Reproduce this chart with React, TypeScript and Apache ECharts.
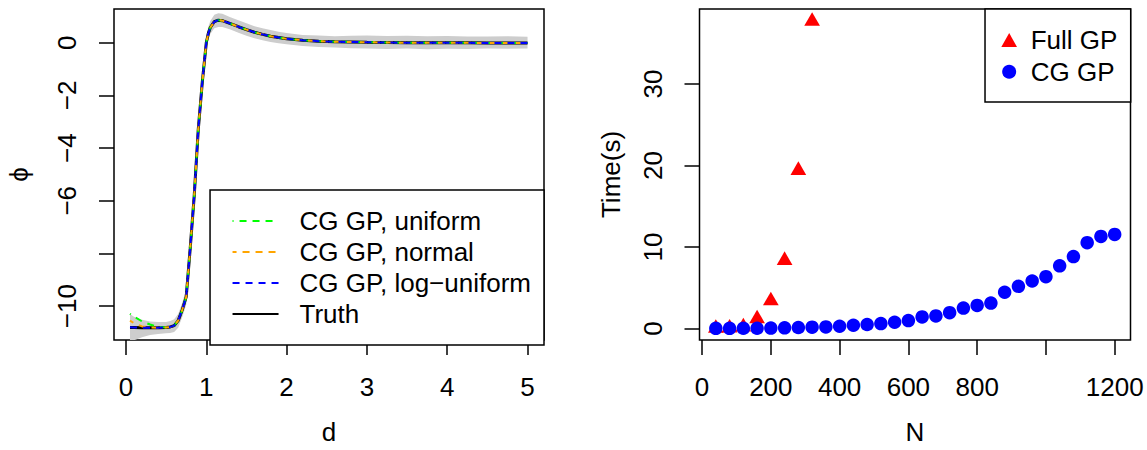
import React, { useEffect, useRef } from "react";
import * as echarts from "echarts";

// ---- Left panel data: phi(d) ----
const D = [0.05, 0.1, 0.2, 0.3, 0.4, 0.5, 0.55, 0.6, 0.65, 0.7, 0.75, 0.8, 0.85, 0.9, 0.95, 0.975, 1.0, 1.025, 1.05, 1.1, 1.15, 1.2, 1.3, 1.4, 1.5, 1.6, 1.7, 1.8, 1.9, 2.0, 2.2, 2.4, 2.6, 2.8, 3.0, 3.25, 3.5, 3.75, 4.0, 4.25, 4.5, 4.75, 5.0];
const TRUTH = [-10.81, -10.81, -10.82, -10.82, -10.82, -10.81, -10.79, -10.74, -10.55, -10.15, -9.65, -7.8, -5.8, -3.3, -1.5, -0.75, 0.0, 0.35, 0.58, 0.8, 0.86, 0.84, 0.73, 0.61, 0.5, 0.4, 0.32, 0.25, 0.2, 0.15, 0.1, 0.06, 0.04, 0.03, 0.02, 0.01, 0.0, 0.0, 0.0, 0.0, -0.01, -0.01, -0.01];
const UNIFORM = [-10.29, -10.4, -10.58, -10.7, -10.79, -10.81, -10.79, -10.74, -10.55, -10.15, -9.65, -7.8, -5.8, -3.3, -1.5, -0.75, 0.0, 0.35, 0.58, 0.8, 0.86, 0.84, 0.73, 0.61, 0.5, 0.4, 0.32, 0.25, 0.2, 0.15, 0.1, 0.06, 0.04, 0.03, 0.02, 0.01, 0.0, 0.0, 0.0, 0.0, -0.01, -0.01, -0.01];
const NORMAL = [-10.55, -10.65, -10.77, -10.81, -10.82, -10.81, -10.79, -10.74, -10.55, -10.15, -9.65, -7.8, -5.8, -3.3, -1.5, -0.75, 0.0, 0.35, 0.58, 0.8, 0.86, 0.84, 0.73, 0.61, 0.5, 0.4, 0.32, 0.25, 0.2, 0.15, 0.1, 0.06, 0.04, 0.03, 0.02, 0.01, 0.0, 0.0, 0.0, 0.0, -0.01, -0.01, -0.01];
const LOG_UNIFORM = [-10.8, -10.81, -10.82, -10.82, -10.82, -10.81, -10.79, -10.74, -10.55, -10.15, -9.65, -7.8, -5.8, -3.3, -1.5, -0.75, 0.0, 0.35, 0.58, 0.8, 0.86, 0.84, 0.73, 0.61, 0.5, 0.4, 0.32, 0.25, 0.2, 0.15, 0.1, 0.06, 0.04, 0.03, 0.02, 0.01, 0.0, 0.0, 0.0, 0.0, -0.01, -0.01, -0.01];
const BAND_UPPER = [-10.3, -10.4, -10.52, -10.58, -10.6, -10.6, -10.57, -10.5, -10.3, -9.88, -9.35, -7.5, -5.5, -3.0, -1.22, -0.5, 0.25, 0.6, 0.83, 1.06, 1.12, 1.1, 0.97, 0.86, 0.74, 0.63, 0.55, 0.49, 0.42, 0.37, 0.3, 0.28, 0.25, 0.27, 0.28, 0.26, 0.27, 0.25, 0.26, 0.24, 0.24, 0.25, 0.23];
const BAND_LOWER = [-11.4, -11.3, -11.18, -11.1, -11.06, -11.03, -11.02, -10.98, -10.82, -10.42, -9.95, -8.1, -6.1, -3.6, -1.78, -1.0, -0.25, 0.1, 0.33, 0.55, 0.6, 0.6, 0.5, 0.38, 0.27, 0.17, 0.1, 0.03, -0.02, -0.06, -0.12, -0.16, -0.18, -0.21, -0.22, -0.24, -0.22, -0.25, -0.23, -0.24, -0.22, -0.23, -0.22];
const D_TICKS = [0, 1, 2, 3, 4, 5];
const PHI_TICKS = [-10, -8, -6, -4, -2, 0];
const PHI_LABELS = [-10, -6, -4, -2, 0];

// ---- Right panel data: time vs N ----
const N_FULL = [40, 80, 120, 160, 200, 240, 280, 320];
const FULL_GP = [0.02, 0.06, 0.2, 1.2, 3.4, 8.35, 19.4, 37.7];
const N_CG = [40, 80, 120, 160, 200, 240, 280, 320, 360, 400, 440, 480, 520, 560, 600, 640, 680, 720, 760, 800, 840, 880, 920, 960, 1000, 1040, 1080, 1120, 1160, 1200];
const CG_GP = [0.02, 0.02, 0.03, 0.03, 0.05, 0.08, 0.12, 0.16, 0.2, 0.28, 0.4, 0.49, 0.61, 0.77, 0.97, 1.42, 1.54, 1.94, 2.51, 2.83, 3.12, 4.45, 5.18, 5.83, 6.36, 7.69, 8.83, 10.53, 11.3, 11.54];
const N_TICKS = [0, 200, 400, 600, 800, 1000, 1200];
const N_LABELS = [0, 200, 400, 600, 800, 1200];
const T_TICKS = [0, 10, 20, 30];

const FONT = "Liberation Sans";
const FS = 26;
const minus = (v: any) => String(v).replace("-", "\u2212");

function pairs(xs: number[], ys: number[]) {
  return xs.map((x, i) => [x, ys[i]]);
}

function axisCommon(ticks: number[], labels: number[], extra: any = {}) {
  return {
    type: "value",
    axisLine: { show: false, onZero: false },
    splitLine: { show: false },
    axisTick: {
      show: true,
      inside: false,
      length: 15,
      customValues: ticks,
      lineStyle: { color: "#000", width: 1.5 },
    },
    axisLabel: {
      customValues: labels,
      color: "#000",
      fontSize: FS,
      fontFamily: FONT,
      margin: 34,
      formatter: minus,
      ...(extra.axisLabel || {}),
    },
    nameLocation: "middle",
    nameTextStyle: { color: "#000", fontSize: FS, fontFamily: FONT },
  };
}

export default function App() {
  const ref = useRef<HTMLDivElement>(null);
  useEffect(() => {
    if (!ref.current) return;
    const chart = echarts.init(ref.current, undefined, { renderer: "svg" });
    const option: any = {
      animation: false,
      backgroundColor: "#fff",
      textStyle: { fontFamily: FONT, color: "#000" },
      grid: [
        { left: 114, top: 9, width: 430, height: 336, show: true, borderColor: "#000", borderWidth: 1.5, backgroundColor: "transparent" },
        { left: 699.5, top: 9, width: 431, height: 336, show: true, borderColor: "#000", borderWidth: 1.5, backgroundColor: "transparent" },
      ],
      xAxis: [
        { ...axisCommon(D_TICKS, D_TICKS), gridIndex: 0, min: -0.149, max: 5.205, name: "d", nameGap: 79 },
        { ...axisCommon(N_TICKS, N_LABELS), gridIndex: 1, min: -7.5, max: 1246, name: "N", nameGap: 79 },
      ],
      yAxis: [
        { ...axisCommon(PHI_TICKS, PHI_LABELS, { axisLabel: { rotate: 90 } }), gridIndex: 0, min: -11.287, max: 1.283, name: "\u03d5", nameGap: 82, nameRotate: 90 },
        { ...axisCommon(T_TICKS, T_TICKS, { axisLabel: { rotate: 90 } }), gridIndex: 1, min: -1.41, max: 39.2, name: "Time(s)", nameGap: 76, nameRotate: 90 },
      ],
      legend: [
        {
          orient: "vertical",
          right: 603,
          bottom: 105,
          data: [
            { name: "CG GP, uniform", itemStyle: { opacity: 0 } },
            { name: "CG GP, normal", itemStyle: { opacity: 0 } },
            { name: "CG GP, log\u2212uniform", itemStyle: { opacity: 0 } },
            { name: "Truth", itemStyle: { opacity: 0 } },
          ],
          padding: [18, 13, 18, 21.5],
          itemWidth: 46,
          itemHeight: 14,
          itemGap: 5,
          borderColor: "#000",
          borderWidth: 1.5,
          borderRadius: 0,
          backgroundColor: "#fff",
          textStyle: { fontSize: FS, fontFamily: FONT, color: "#000", lineHeight: 26, padding: [0, 0, 0, 16] },
          selectedMode: false,
        },
        {
          orient: "vertical",
          right: 16.3,
          top: 9,
          data: ["Full GP", "CG GP"],
          padding: [18, 13.3, 17.3, 16.3],
          itemWidth: 15.7,
          itemHeight: 14,
          itemGap: 5.7,
          symbolKeepAspect: false,
          borderColor: "#000",
          borderWidth: 1.5,
          borderRadius: 0,
          backgroundColor: "#fff",
          textStyle: { fontSize: FS, fontFamily: FONT, color: "#000", lineHeight: 26, padding: [0, 0, 0, 8.7] },
          selectedMode: false,
        },
      ],
      series: [
        {
          type: "custom",
          name: "band",
          xAxisIndex: 0,
          yAxisIndex: 0,
          clip: true,
          silent: true,
          z: 1,
          data: [[D[0], BAND_LOWER[0]]],
          renderItem: (params: any, api: any) => {
            const upper = D.map((x, i) => api.coord([x, BAND_UPPER[i]]));
            const lower = D.map((x, i) => api.coord([x, BAND_LOWER[i]])).reverse();
            const cs = params.coordSys;
            return {
              type: "polygon",
              shape: { points: upper.concat(lower) },
              style: { fill: "#cdcdcd", stroke: "none" },
              clipPath: { type: "rect", shape: { x: cs.x, y: cs.y, width: cs.width, height: cs.height } },
            };
          },
        },
        {
          type: "line",
          name: "Truth",
          xAxisIndex: 0,
          yAxisIndex: 0,
          data: pairs(D, TRUTH),
          symbol: "none",
          z: 2,
          lineStyle: { color: "#000", width: 3 },
          itemStyle: { color: "#000" },
        },
        {
          type: "line",
          name: "CG GP, uniform",
          xAxisIndex: 0,
          yAxisIndex: 0,
          data: pairs(D, UNIFORM),
          symbol: "none",
          z: 3,
          lineStyle: { color: "#00ff00", width: 2, type: [7, 6], dashOffset: 6 },
          itemStyle: { color: "#00ff00" },
        },
        {
          type: "line",
          name: "CG GP, normal",
          xAxisIndex: 0,
          yAxisIndex: 0,
          data: pairs(D, NORMAL),
          symbol: "none",
          z: 4,
          lineStyle: { color: "#ffa500", width: 2, type: [7, 6], dashOffset: 3 },
          itemStyle: { color: "#ffa500" },
        },
        {
          type: "line",
          name: "CG GP, log\u2212uniform",
          xAxisIndex: 0,
          yAxisIndex: 0,
          data: pairs(D, LOG_UNIFORM),
          symbol: "none",
          z: 5,
          lineStyle: { color: "#0000ff", width: 2, type: [7, 6], dashOffset: 0 },
          itemStyle: { color: "#0000ff" },
        },
        {
          type: "scatter",
          name: "Full GP",
          xAxisIndex: 1,
          yAxisIndex: 1,
          data: pairs(N_FULL, FULL_GP),
          symbol: "triangle",
          symbolSize: [15.7, 13.6],
          symbolOffset: [0, -2.3],
          itemStyle: { color: "#ff0000", opacity: 1 },
          z: 2,
        },
        {
          type: "scatter",
          name: "CG GP",
          xAxisIndex: 1,
          yAxisIndex: 1,
          data: pairs(N_CG, CG_GP),
          symbol: "circle",
          symbolSize: 13.5,
          itemStyle: { color: "#0000ff", opacity: 1 },
          z: 3,
        },
      ],
    };
    chart.setOption(option);
    return () => chart.dispose();
  }, []);
  return <div ref={ref} style={{ position: "fixed", left: 0, top: 0, width: 1147, height: 450 }} />;
}
